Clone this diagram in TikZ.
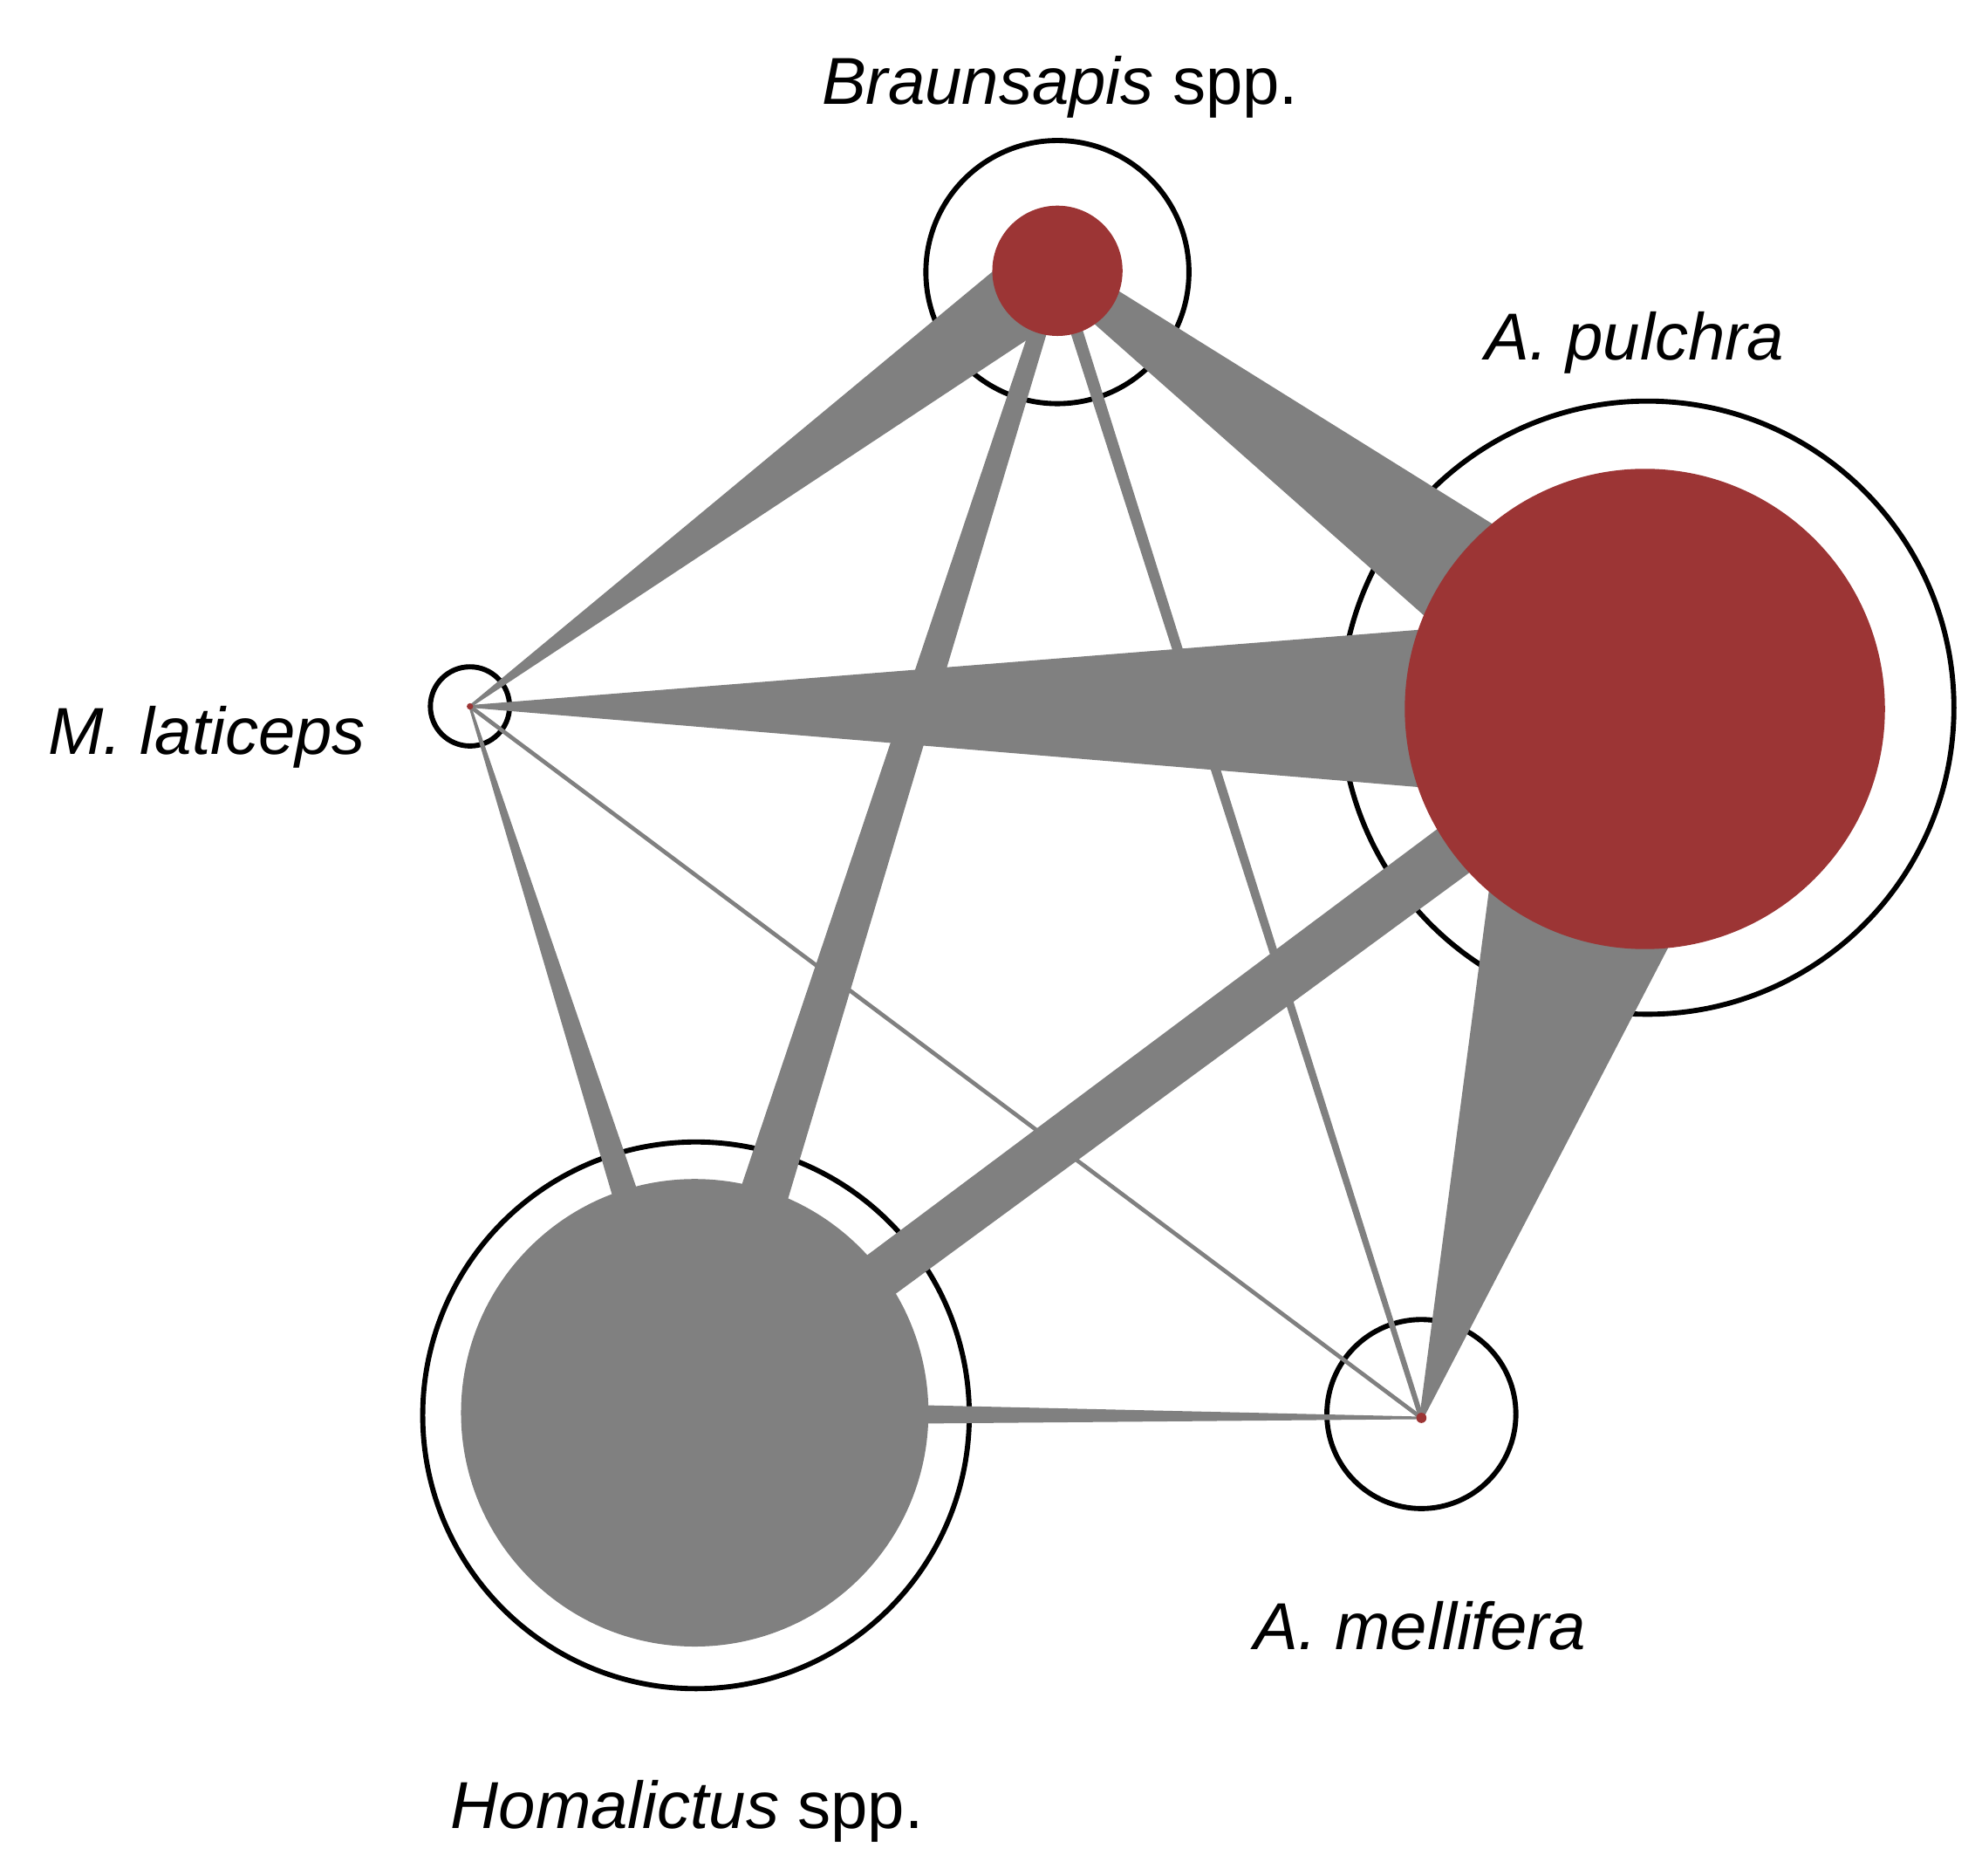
\documentclass[tikz,border=0pt]{standalone}
\usepackage{fontspec}
\setmainfont{Liberation Sans}
\usetikzlibrary{calc}
\definecolor{nred}{HTML}{9C3535}
\definecolor{egray}{HTML}{808080}
\tikzset{
  outer/.style={circle,draw=black,line width=2pt,inner sep=0pt},
  inner/.style={circle,fill=#1,inner sep=0pt},
  edge/.style={fill=egray},
  lab/.style={font=\fontsize{26}{30}\selectfont}
}
\newcommand\edgew[4]{\fill[edge] ($(#1)!#3!90:(#2)$) -- ($(#2)!#4!-90:(#1)$) -- ($(#2)!#4!90:(#1)$) -- ($(#1)!#3!-90:(#2)$) -- cycle;}
\begin{document}
\begin{tikzpicture}[x=0.5pt,y=-0.5pt]
\useasboundingbox (0,0) rectangle (1552,1468);
\coordinate (bra) at (828,212);
\coordinate (pul) at (1288,555);
\coordinate (lat) at (368,553);
\coordinate (hom) at (544,1106);
\coordinate (mel) at (1113,1110);
% outer circles
\node[outer,minimum size=103pt] (braO) at (828,213) {};
\node[outer,minimum size=240pt] (pulO) at (1290,554) {};
\node[outer,minimum size=31pt] (latO) at (368,553) {};
\node[outer,minimum size=214pt] (homO) at (545,1108) {};
\node[outer,minimum size=74pt] (melO) at (1113,1107) {};
% edges
\edgew{bra}{lat}{16pt}{0.5pt}
\edgew{bra}{pul}{6pt}{30pt}
\edgew{pul}{lat}{38pt}{0.5pt}
\edgew{pul}{mel}{52pt}{0.8pt}
\edgew{hom}{pul}{9pt}{11pt}
\edgew{bra}{hom}{3pt}{11pt}
\edgew{bra}{mel}{2.5pt}{1pt}
\edgew{lat}{hom}{0.5pt}{7pt}
\edgew{lat}{mel}{0.8pt}{0.8pt}
\edgew{hom}{mel}{5pt}{0.5pt}
% inner circles
\node[inner=nred,minimum size=51pt] (braI) at (bra) {};
\node[inner=nred,minimum size=188pt] (pulI) at (pul) {};
\node[inner=nred,minimum size=2.5pt] (latI) at (lat) {};
\node[inner=egray,minimum size=183pt] (homI) at (hom) {};
\node[inner=nred,minimum size=4pt] (melI) at (mel) {};
% labels
\node[lab] (braL) at (830,68) {\textit{Braunsapis} spp.};
\node[lab] (pulL) at (1280,268) {\textit{A. pulchra}};
\node[lab] (latL) at (162,577) {\textit{M. laticeps}};
\node[lab] (homL) at (538,1418) {\textit{Homalictus} spp.};
\node[lab] (melL) at (1112,1273) {\textit{A. mellifera}};
\end{tikzpicture}
\end{document}
